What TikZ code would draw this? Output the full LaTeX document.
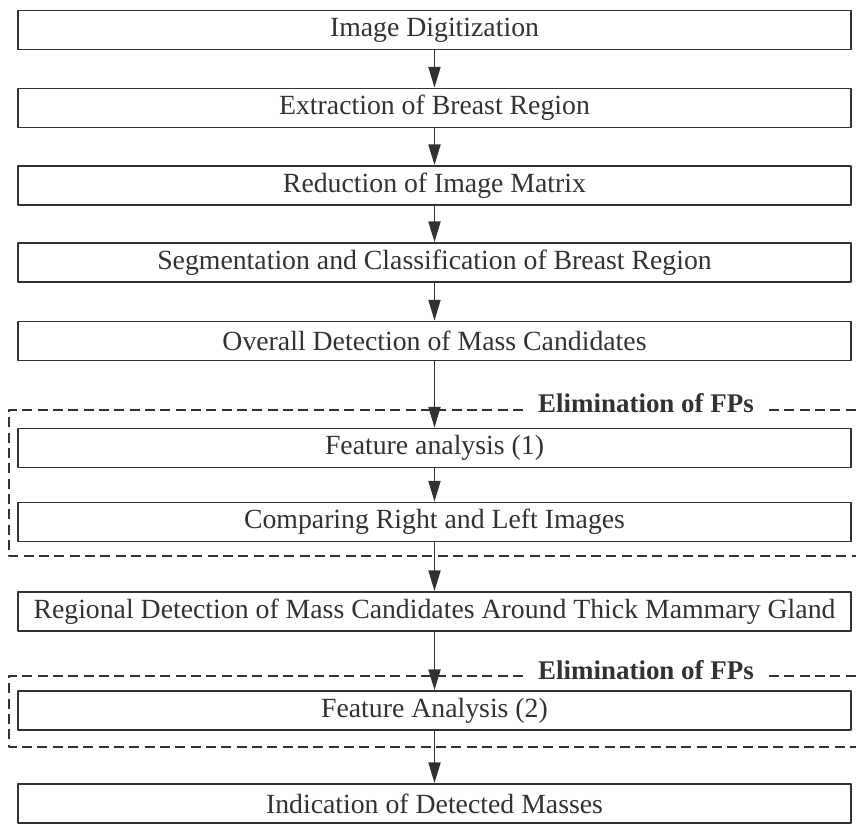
\documentclass[tikz,border=0pt]{standalone}
\usepackage{fontspec}
\setmainfont{Liberation Serif}
\usetikzlibrary{arrows.meta}
\definecolor{ink}{RGB}{50,50,50}

\begin{document}
\begin{tikzpicture}[
        x=0.03cm, y=-0.03cm,
        line join=round,
        stage/.style={
            draw=ink, line width=1.5pt, text=ink,
            minimum width=24.99cm, minimum height=1.17cm, inner sep=0pt,
            font=\fontsize{23.7}{28}\selectfont
        },
        flow/.style={draw=ink, line width=1.5pt, -{Triangle[length=0.62cm, width=0.36cm]}},
        fpframe/.style={draw=ink, line width=1.3pt, dash pattern=on 0.3cm off 0.16cm},
        fplabel/.style={text=ink, anchor=base, inner xsep=0.45cm, font=\fontsize{23}{27}\selectfont\bfseries}
    ]
    \useasboundingbox (0,0) rectangle (856,824);

    % main chain of stages
    \node[stage] (digit)    at (434.5, 30)    {Image Digitization};
    \node[stage] (extract)  at (434.5, 108)   {Extraction of Breast Region};
    \node[stage] (reduce)   at (434.5, 185.5) {Reduction of Image Matrix};
    \node[stage] (segment)  at (434.5, 262.5) {Segmentation and Classification of Breast Region};
    \node[stage] (overall)  at (434.5, 341)   {Overall Detection of Mass Candidates};
    \node[stage] (feat1)    at (434.5, 448)   {Feature analysis (1)};
    \node[stage] (compare)  at (434.5, 522)   {Comparing Right and Left Images};
    \node[stage] (regional) at (434.5, 611.5) {Regional Detection of Mass Candidates Around Thick Mammary Gland};
    \node[stage] (feat2)    at (434.5, 710.5) {Feature Analysis (2)};
    \node[stage] (indicate) at (434.5, 803.5) {Indication of Detected Masses};

    \foreach \a/\b in {digit/extract, extract/reduce, reduce/segment, segment/overall,
        overall/feat1, feat1/compare, compare/regional, regional/feat2, feat2/indicate}
        \draw[flow] (\a) -- (\b);

    % first elimination frame, open on the right
    \path (9, 410) coordinate (fpA-nw)
        (9, 556) coordinate (fpA-sw)
        (856, 556) coordinate (fpA-se)
        (856, 410) coordinate (fpA-ne);
    \node[fplabel] (fpA) at (646, 413) {Elimination of FPs};
    \draw[fpframe] (fpA.west |- fpA-nw) -- (fpA-nw) -- (fpA-sw) -- (fpA-se);
    \draw[fpframe] (fpA.east |- fpA-ne) -- (fpA-ne);

    % second elimination frame
    \path (9, 676) coordinate (fpB-nw)
        (9, 747) coordinate (fpB-sw)
        (856, 747) coordinate (fpB-se)
        (856, 676) coordinate (fpB-ne);
    \node[fplabel] (fpB) at (646, 680) {Elimination of FPs};
    \draw[fpframe] (fpB.west |- fpB-nw) -- (fpB-nw) -- (fpB-sw) -- (fpB-se);
    \draw[fpframe] (fpB.east |- fpB-ne) -- (fpB-ne);
\end{tikzpicture}
\end{document}
